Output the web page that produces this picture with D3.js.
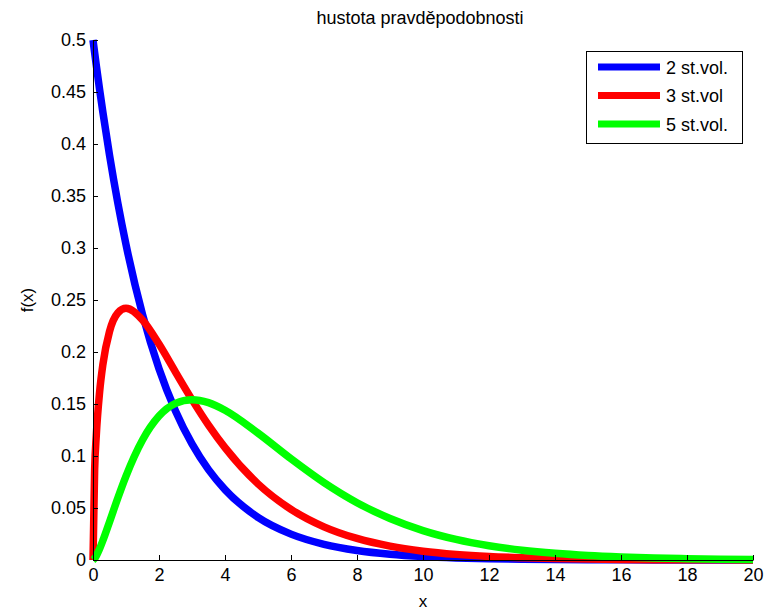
<!DOCTYPE html>
<html><head><meta charset="utf-8">
<script src="https://cdn.jsdelivr.net/npm/d3@7/dist/d3.min.js"></script>
<style>body{margin:0;background:#fff}svg{display:block}text{font-family:"Liberation Sans",Arial,sans-serif;fill:#000}</style>
</head><body><div id="chart"></div>
<script>
const xs = [0,0.05,0.1,0.2,0.3,0.5,0.75,1,1.5,2,2.5,3,3.5,4,5,6,7,8,9,10,11,12,13,14,15,16,17,18,19,20];
const df2 = [0.5,0.4877,0.4756,0.4524,0.4304,0.3894,0.3436,0.3033,0.2362,0.1839,0.1433,0.1116,0.0869,0.0677,0.0410,0.0249,0.0151,0.00916,0.00555,0.00337,0.00204,0.00124,0.00075,0.00046,0.00028,0.00017,0.0001,0.00006,0.00004,0.00002];
const df3 = [0,0.0870,0.1200,0.1614,0.1881,0.2197,0.2375,0.2420,0.2308,0.2076,0.1807,0.1542,0.1297,0.1080,0.0732,0.0487,0.0319,0.0207,0.0133,0.0085,0.0054,0.0034,0.0022,0.00136,0.00085,0.00054,0.00033,0.00021,0.00013,0.00008];
const df5 = [0,0.00145,0.0040,0.0108,0.0188,0.0366,0.0594,0.0807,0.1154,0.1384,0.1506,0.1542,0.1513,0.1440,0.1220,0.0973,0.0744,0.0551,0.0399,0.0283,0.0198,0.0137,0.0094,0.0064,0.0043,0.0029,0.0019,0.0013,0.00082,0.00054];
const seriesNames = ["2 st.vol.","3 st.vol","5 st.vol."];
const seriesColors = ["#0000ff","#ff0000","#00ff00"];
const xTicks = [0,2,4,6,8,10,12,14,16,18,20];
const yTicks = [0,0.05,0.1,0.15,0.2,0.25,0.3,0.35,0.4,0.45,0.5];
const title = "hustota pravděpodobnosti";

const W=772,H=610;
const svg=d3.select("#chart").append("svg").attr("width",W).attr("height",H);
const x=d3.scaleLinear().domain([0,20]).range([93,753]);
const y=d3.scaleLinear().domain([0,0.5]).range([560,40]);

const series=[df2,df3,df5];
const line=d3.line().x((d,i)=>x(xs[i])).y(d=>y(d)).curve(d3.curveMonotoneX);
series.forEach((s,k)=>{
  svg.append("path").datum(s).attr("d",line).attr("fill","none")
    .attr("stroke",seriesColors[k]).attr("stroke-width",7.5).attr("stroke-linejoin","round");
});

const xAxis=svg.append("g").attr("transform","translate(0,560)")
  .call(d3.axisBottom(x).tickValues(xTicks).tickSize(-5).tickSizeOuter(0).tickPadding(8).tickFormat(d3.format("d")));
const yAxis=svg.append("g").attr("transform","translate(93,0)")
  .call(d3.axisLeft(y).tickValues(yTicks).tickSize(-5).tickSizeOuter(0).tickPadding(7).tickFormat(d=>String(+d.toFixed(2))));
[xAxis,yAxis].forEach(g=>{
  g.selectAll("path.domain").attr("stroke","#000").attr("stroke-width",1);
  g.selectAll("line").attr("stroke","#000");
  g.selectAll("text").style("font-size","18px").attr("fill","#222");
});

svg.append("text").attr("x",420).attr("y",24).attr("text-anchor","middle").style("font-size","18px").attr("fill","#222").text(title);
svg.append("text").attr("x",423).attr("y",607).attr("text-anchor","middle").style("font-size","17px").attr("fill","#222").text("x");
svg.append("text").attr("transform","translate(33,300) rotate(-90)").attr("text-anchor","middle").style("font-size","17px").attr("fill","#222").text("f(x)");

// legend
const lg=svg.append("g");
lg.append("rect").attr("x",586.5).attr("y",51.5).attr("width",156).attr("height",92).attr("fill","#fff").attr("stroke","#000").attr("stroke-width",1);
seriesNames.forEach((n,k)=>{
  const yy=67+k*28.5;
  lg.append("line").attr("x1",598).attr("x2",660).attr("y1",yy).attr("y2",yy).attr("stroke",seriesColors[k]).attr("stroke-width",7);
  lg.append("text").attr("x",666).attr("y",yy+6.5).style("font-size","18px").attr("fill","#222").text(n);
});
</script></body></html>
